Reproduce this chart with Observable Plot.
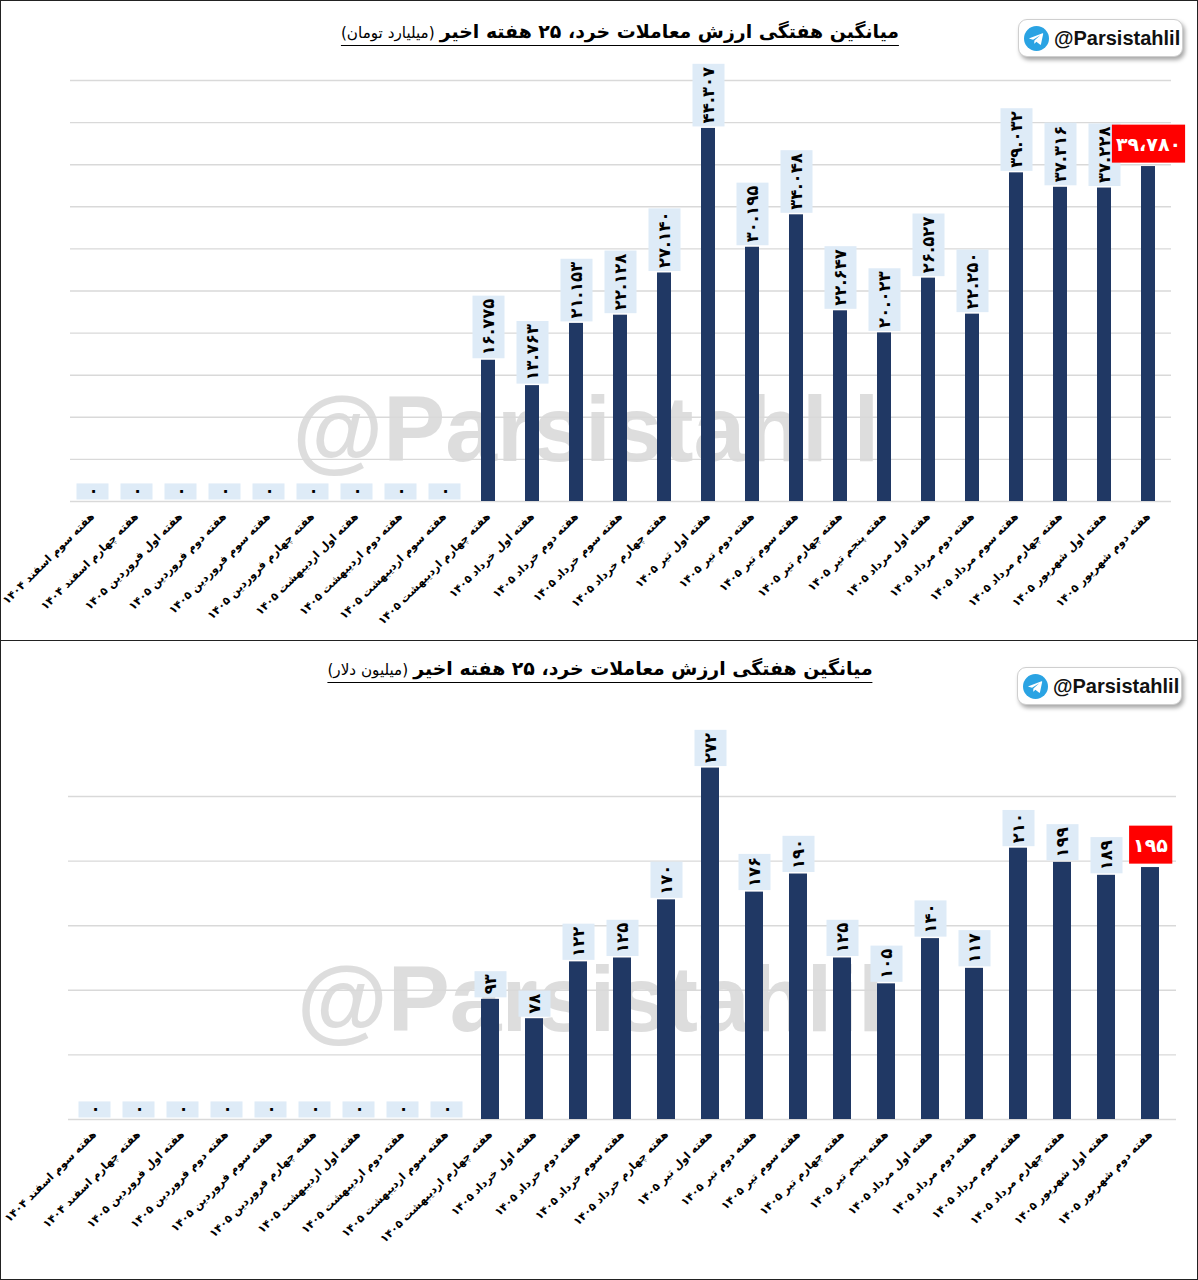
<!DOCTYPE html>
<html>
<head>
<meta charset="utf-8">
<script src="https://cdn.jsdelivr.net/npm/d3@7"></script>
<script src="https://cdn.jsdelivr.net/npm/@observablehq/plot@0.6"></script>
<style>
  body { margin: 0; background: #fff; }
  #wrap { position: relative; width: 1198px; height: 1280px; overflow: hidden; background: #fff; }
  .panel { position: absolute; left: 0; width: 1198px; height: 640px; }
  .panel svg { position: absolute; left: 0; top: 0; }
  .frame { position: absolute; left: 0; top: 0; width: 1198px; height: 641px; border: 1.5px solid #222; box-sizing: border-box; pointer-events: none; }
  .title { position: absolute; font-family: "DejaVu Sans", sans-serif; direction: rtl; white-space: nowrap; color: #000;
           transform: translateX(-50%); border-bottom: 1.5px solid #000; line-height: 1.25; padding-bottom: 1px; }
  .title b { font-size: 18.9px; font-weight: bold; }
  .title span { font-size: 15.2px; font-weight: normal; }
  .badge { position: absolute; width: 165px; height: 38px; box-sizing: border-box; background: #fff;
           border: 1px solid #cfcfcf; border-radius: 9px; box-shadow: 2px 3px 4px rgba(0,0,0,0.35);
           display: flex; align-items: center; gap: 5px; padding-left: 5px;
           font-family: "Liberation Sans", Arial, sans-serif; font-weight: bold; font-size: 20px; color: #111; }
  .badge svg { position: static; }
</style>
</head>
<body>
<div id="wrap">
  <div class="panel" id="p1" style="top:0px">
    <div class="title" id="t1" style="left:620px; top:20px;"></div>
    <div class="badge" style="left:1018px; top:19px;"></div>
    <div class="frame"></div>
  </div>
  <div class="panel" id="p2" style="top:640px">
    <div class="title" id="t2" style="left:600px; top:17px;"></div>
    <div class="badge" style="left:1017px; top:27px;"></div>
    <div class="frame" style="height:640px"></div>
  </div>
</div>
<script>
// ---------------- data ----------------
const weeks = [
  "هفته سوم اسفند ۱۴۰۴",
  "هفته چهارم اسفند ۱۴۰۴",
  "هفته اول فروردین ۱۴۰۵",
  "هفته دوم فروردین ۱۴۰۵",
  "هفته سوم فروردین ۱۴۰۵",
  "هفته چهارم فروردین ۱۴۰۵",
  "هفته اول اردیبهشت ۱۴۰۵",
  "هفته دوم اردیبهشت ۱۴۰۵",
  "هفته سوم اردیبهشت ۱۴۰۵",
  "هفته چهارم اردیبهشت ۱۴۰۵",
  "هفته اول خرداد ۱۴۰۵",
  "هفته دوم خرداد ۱۴۰۵",
  "هفته سوم خرداد ۱۴۰۵",
  "هفته چهارم خرداد ۱۴۰۵",
  "هفته اول تیر ۱۴۰۵",
  "هفته دوم تیر ۱۴۰۵",
  "هفته سوم تیر ۱۴۰۵",
  "هفته چهارم تیر ۱۴۰۵",
  "هفته پنجم تیر ۱۴۰۵",
  "هفته اول مرداد ۱۴۰۵",
  "هفته دوم مرداد ۱۴۰۵",
  "هفته سوم مرداد ۱۴۰۵",
  "هفته چهارم مرداد ۱۴۰۵",
  "هفته اول شهریور ۱۴۰۵",
  "هفته دوم شهریور ۱۴۰۵"
];
// billion toman
const tomanValues = [0, 0, 0, 0, 0, 0, 0, 0, 0,
  16775, 13763, 21153, 22128, 27140, 44307, 30195, 34048, 22647, 20023, 26527, 22250, 39032, 37316, 37228, 39780];
// million dollars
const dollarValues = [0, 0, 0, 0, 0, 0, 0, 0, 0,
  93, 78, 122, 125, 170, 272, 176, 190, 125, 105, 140, 117, 210, 199, 189, 195];

const tomanTicks = [0, 5000, 10000, 15000, 20000, 25000, 30000, 35000, 40000, 45000, 50000];
const dollarTicks = [0, 50, 100, 150, 200, 250];

const titleMain = "میانگین هفتگی ارزش معاملات خرد، ۲۵ هفته اخیر";
const titleUnitToman = "(میلیارد تومان)";
const titleUnitDollar = "(میلیون دلار)";
const watermark = "@Parsistahlil";

// ---------------- helpers ----------------
const faDigits = "۰۱۲۳۴۵۶۷۸۹";
function toFa(v, sep) {
  return d3.format(",")(v).replace(/,/g, sep).replace(/[0-9]/g, d => faDigits[+d]);
}

const badgeHTML = `<svg width="25" height="25" viewBox="0 0 24 24"><circle cx="12" cy="12" r="12" fill="#2AA3E3"/>
<path d="M5.2 11.7 L17.8 6.9 Q18.6 6.7 18.4 7.6 L16.3 17.4 Q16.1 18.2 15.3 17.7 L11.9 15.2 L10.2 16.8 Q9.8 17.1 9.8 16.6 L10.0 13.8 L15.6 8.8 L8.7 13.1 L5.4 12.2 Q4.7 12 5.2 11.7 Z" fill="#fff"/></svg><span>@Parsistahlil</span>`;
document.querySelectorAll(".badge").forEach(b => b.innerHTML = badgeHTML);
document.getElementById("t1").innerHTML = `<b>${titleMain}</b> <span>${titleUnitToman}</span>`;
document.getElementById("t2").innerHTML = `<b>${titleMain}</b> <span>${titleUnitDollar}</span>`;

function makeChart(cfg) {
  const data = weeks.map((w, i) => ({week: w, value: cfg.values[i], last: i === weeks.length - 1}));
  const normal = data.filter(d => !d.last);
  const last = data.filter(d => d.last);
  return Plot.plot({
    width: 1198,
    height: 640,
    marginLeft: cfg.marginLeft,
    marginRight: cfg.marginRight,
    marginTop: cfg.marginTop,
    marginBottom: cfg.marginBottom,
    style: {background: "transparent", overflow: "visible"},
    x: {domain: weeks, paddingInner: cfg.padInner, paddingOuter: cfg.padInner / 2},
    y: {domain: cfg.yDomain, axis: null},
    marks: [
      Plot.text([watermark], {frameAnchor: "middle", dx: cfg.wmDx, dy: cfg.wmDy, text: d => d,
        fontSize: 93, fontWeight: "bold", fontFamily: "Liberation Sans", fill: "#cfcfcf", fillOpacity: 0.7}),
      Plot.gridY(cfg.ticks, {stroke: "#d9d9d9", strokeOpacity: 1, strokeWidth: 1.4}),
      Plot.barY(data, {x: "week", y: "value", fill: "#203864"}),
      Plot.text(normal, {x: "week", y: "value", text: d => toFa(d.value, "."), rotate: -90,
        textAnchor: "start", lineAnchor: "middle", dy: -5, fontSize: 16.5, fontWeight: "bold",
        fontFamily: "DejaVu Sans", fill: "#000"}),
      Plot.text(last, {x: "week", y: "value", text: d => toFa(d.value, "،"),
        textAnchor: "middle", lineAnchor: "middle", dy: -22, fontSize: 19, fontWeight: "bold",
        fontFamily: "DejaVu Sans", fill: "#fff"}),
      Plot.axisX({tickRotate: -45, tickSize: 0, tickPadding: 13, fontSize: 11, fontWeight: "bold",
        fontFamily: "DejaVu Sans", label: null})
    ]
  });
}

function addBoxes(svg) {
  const NS = "http://www.w3.org/2000/svg";
  const groups = [...svg.querySelectorAll('g[aria-label="text"]')];
  const boxGroup = (g, pad, fill, fixedAcross, red) => {
    if (!g) return;
    g.querySelectorAll("text").forEach(t => {
      const b = t.getBBox();
      const r = document.createElementNS(NS, "rect");
      r.setAttribute("x", b.x - pad);
      r.setAttribute("width", b.width + 2 * pad);
      const cy = red ? b.y + b.height / 2 : 0;
      r.setAttribute("y", cy - fixedAcross / 2);
      r.setAttribute("height", fixedAcross);
      r.setAttribute("fill", fill);
      const tr = t.getAttribute("transform");
      if (tr) r.setAttribute("transform", tr);
      t.parentNode.insertBefore(r, t);
    });
  };
  boxGroup(groups[1], 3, "#deebf7", 32, false);
  boxGroup(groups[2], 4, "#ff0000", 38, true);
}

const c1 = makeChart({values: tomanValues, ticks: tomanTicks, yDomain: [0, 50000],
  marginLeft: 70, marginRight: 27, marginTop: 80, marginBottom: 139, padInner: 0.68,
  wmDx: -35, wmDy: 140});
const p1 = document.getElementById("p1");
p1.insertBefore(c1, p1.firstChild);
addBoxes(c1);

const c2 = makeChart({values: dollarValues, ticks: dollarTicks, yDomain: [0, 250],
  marginLeft: 68, marginRight: 22, marginTop: 156, marginBottom: 161, padInner: 0.594,
  wmDx: -32, wmDy: 43});
const p2 = document.getElementById("p2");
p2.insertBefore(c2, p2.firstChild);
addBoxes(c2);
</script>
</body>
</html>
